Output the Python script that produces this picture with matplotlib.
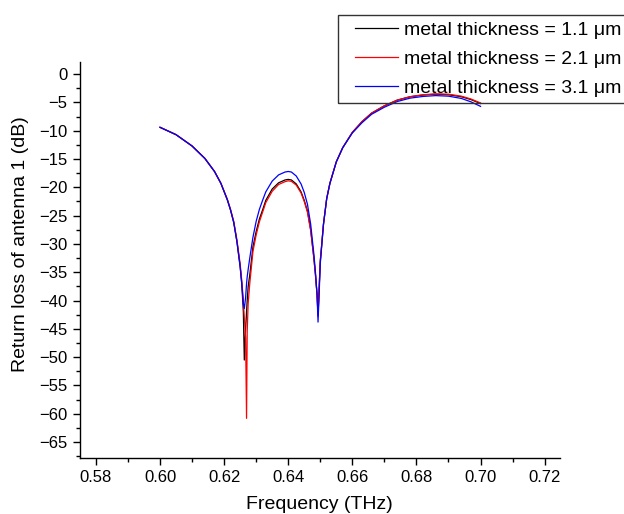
import matplotlib
matplotlib.use("Agg")
import matplotlib.pyplot as plt
from matplotlib.patches import Rectangle
from matplotlib.ticker import MultipleLocator, FormatStrFormatter

plt.rcParams["font.family"] = ["Liberation Sans", "DejaVu Sans"]

# frequency points (THz)
freq = [0.600, 0.605, 0.610, 0.614, 0.617, 0.619, 0.621, 0.622, 0.623, 0.624,
        0.625, 0.6255, 0.626, 0.6263, 0.6267, 0.627, 0.6272, 0.6275, 0.628, 0.629,
        0.630, 0.631, 0.632, 0.633, 0.635, 0.637, 0.639, 0.640, 0.641, 0.6425,
        0.644, 0.645, 0.646, 0.647, 0.648, 0.6485, 0.649, 0.6493, 0.6497, 0.650,
        0.651, 0.652, 0.653, 0.655, 0.657, 0.660, 0.663, 0.666, 0.670, 0.674,
        0.678, 0.682, 0.686, 0.690, 0.694, 0.697, 0.700]

# return loss (dB) per metal thickness
rl_1p1 = [-9.4, -10.7, -12.7, -14.9, -17.2, -19.3, -22.2, -24.0, -26.2, -29.6,
          -34.0, -37.0, -42.0, -50.5, -45.0, -42.0, -40.0, -37.5, -35.5, -30.5,
          -27.8, -25.6, -24.0, -22.3, -20.3, -19.2, -18.7, -18.6, -18.7, -19.4,
          -20.8, -22.3, -24.2, -27.5, -32.5, -35.5, -39.0, -42.5, -37.0, -33.0,
          -26.5, -22.0, -19.3, -15.5, -13.0, -10.3, -8.4, -6.9, -5.6, -4.6,
          -4.0, -3.7, -3.55, -3.65, -4.0, -4.5, -5.2]
rl_2p1 = [-9.4, -10.7, -12.7, -14.9, -17.2, -19.3, -22.1, -23.9, -26.0, -29.3,
          -33.5, -36.4, -40.0, -43.0, -46.5, -60.8, -45.5, -40.5, -37.0, -31.3,
          -28.4, -26.1, -24.4, -22.7, -20.7, -19.5, -19.0, -18.85, -18.95, -19.6,
          -21.0, -22.5, -24.4, -27.6, -32.5, -35.5, -39.0, -42.8, -37.0, -33.0,
          -26.5, -22.0, -19.3, -15.5, -13.0, -10.3, -8.4, -6.9, -5.6, -4.6,
          -4.0, -3.65, -3.5, -3.55, -3.9, -4.4, -5.1]
rl_3p1 = [-9.4, -10.7, -12.7, -14.9, -17.2, -19.3, -22.2, -24.0, -26.2, -29.6,
          -34.0, -37.0, -40.5, -41.4, -39.5, -37.0, -35.8, -34.5, -32.5, -28.8,
          -26.0, -23.9, -22.3, -20.8, -18.9, -17.8, -17.3, -17.2, -17.3, -18.0,
          -19.4, -20.9, -23.0, -26.5, -31.8, -35.0, -39.0, -43.8, -38.0, -33.5,
          -26.5, -22.0, -19.3, -15.5, -13.0, -10.4, -8.6, -7.1, -5.85, -4.85,
          -4.25, -3.95, -3.8, -3.9, -4.3, -4.9, -5.7]

labels = ["metal thickness = 1.1 μm", "metal thickness = 2.1 μm", "metal thickness = 3.1 μm"]
colors = ["black", "#ff0000", "#0000ff"]

W, H = 624, 514
fig = plt.figure(figsize=(W / 100, H / 100), dpi=100)
ax = fig.add_axes([0.128, 0.109, 0.769, 0.770])

for ys, lab, c in zip([rl_1p1, rl_2p1, rl_3p1], labels, colors):
    ax.plot(freq, ys, color=c, lw=0.9, label=lab)

ax.set_xlim(0.575, 0.7247)
ax.set_ylim(-67.8, 2.1)
ax.xaxis.set_major_locator(MultipleLocator(0.02))
ax.xaxis.set_minor_locator(MultipleLocator(0.01))
ax.xaxis.set_major_formatter(FormatStrFormatter("%.2f"))
ax.yaxis.set_major_locator(MultipleLocator(5))
ax.yaxis.set_minor_locator(MultipleLocator(2.5))

for side in ["top", "right"]:
    ax.spines[side].set_visible(False)
for side in ["left", "bottom"]:
    ax.spines[side].set_linewidth(1.0)

ax.tick_params(which="major", direction="out", length=5, width=1.0, labelsize=12, pad=4)
ax.tick_params(which="minor", direction="out", length=3, width=1.0)

ax.set_xlabel("Frequency (THz)", fontsize=14)
ax.set_ylabel("Return loss of antenna 1 (dB)", fontsize=14)
ax.xaxis.set_label_coords(0.5, -0.095)
ax.yaxis.set_label_coords(-0.105, 0.54)

# legend without frame; box drawn separately so it runs off the right edge
fig.legend(loc="upper left", bbox_to_anchor=(350 / W, 1 - 16 / H),
           fontsize=14, frameon=False, borderpad=0.28, labelspacing=0.58,
           handlelength=2.2, handletextpad=0.3, borderaxespad=0)
fig.patches.append(Rectangle((338 / W, 1 - 103 / H), 300 / W, 88 / H,
                             transform=fig.transFigure, fill=False,
                             edgecolor="#333333", linewidth=1.0))

fig.savefig("out.png", dpi=100)
